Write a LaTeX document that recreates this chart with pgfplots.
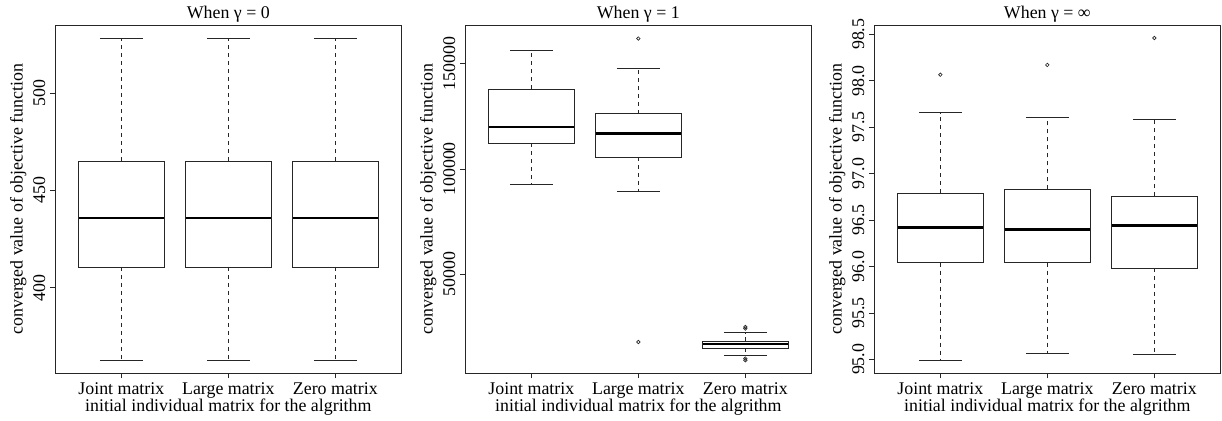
\documentclass[border=0pt]{standalone}
\usepackage{fontspec}
\setmainfont{Liberation Serif}
\usepackage{pgfplots}
\pgfplotsset{compat=1.18}
\usepgfplotslibrary{statistics}

\pgfplotsset{
  rbox/.style={
    scale only axis, width=260pt, height=261pt,
    xmin=0.38, xmax=3.62,
    xtick={1,2,3}, xticklabels={Joint matrix, Large matrix, Zero matrix},
    tick align=outside, xtick pos=left, ytick pos=left,
    major tick length=3.75pt,
    every tick/.style={black!85, line width=0.5pt},
    axis line style={black!85, line width=0.5pt},
    font=\rmfamily\fontsize{13.4}{15}\selectfont,
    tick label style={font=\rmfamily\fontsize{13.4}{15}\selectfont},
    /pgf/number format/assume math mode=true,
    yticklabel style={rotate=90, anchor=south},
    xlabel={initial individual matrix for the algrithm},
    ylabel={converged value of objective function},
    every axis x label/.style={at={([yshift=-25.3pt]axis description cs:0.5,0)}, anchor=center},
    every axis y label/.style={at={([xshift=-27.5pt]axis description cs:0,0.5)}, anchor=center, rotate=90},
    every axis title/.style={at={([yshift=8.5pt]axis description cs:0.5,1)}, anchor=center},
    boxplot/draw direction=y,
    boxplot/box extend=0.8,
    boxplot/whisker extend=0.4,
    boxplot/every median/.style={line width=2pt, black},
    boxplot/draw/lower whisker/.code={%
      \draw[dash pattern=on 3pt off 3pt]
        (boxplot whisker cs:\pgfplotsboxplotvalue{lower quartile},0.5) --
        (boxplot whisker cs:\pgfplotsboxplotvalue{lower whisker},0.5);
      \draw (boxplot whisker cs:\pgfplotsboxplotvalue{lower whisker},0) --
        (boxplot whisker cs:\pgfplotsboxplotvalue{lower whisker},1);
    },
    boxplot/draw/upper whisker/.code={%
      \draw[dash pattern=on 3pt off 3pt]
        (boxplot whisker cs:\pgfplotsboxplotvalue{upper quartile},0.5) --
        (boxplot whisker cs:\pgfplotsboxplotvalue{upper whisker},0.5);
      \draw (boxplot whisker cs:\pgfplotsboxplotvalue{upper whisker},0) --
        (boxplot whisker cs:\pgfplotsboxplotvalue{upper whisker},1);
    },
  },
  bx/.style={black!85, line width=0.55pt, solid},
  outl/.style={only marks, mark=o, mark size=1.3pt, black!85, mark options={line width=0.5pt}},
}

\begin{document}
\begin{tikzpicture}
\useasboundingbox (0,0) rectangle (916.5pt,315.75pt);

% Panel 1: gamma = 0
\begin{axis}[rbox, at={(41.25pt,35.8pt)}, anchor=south west,
  title={When γ = 0},
  ymin=356, ymax=534.8, ytick={400,450,500}, yticklabels={400,450,500}]
\addplot[bx, boxplot prepared={lower whisker=362.6, lower quartile=410.6, median=435.8, upper quartile=465.1, upper whisker=528, draw position=1}] coordinates {};
\addplot[bx, boxplot prepared={lower whisker=362.6, lower quartile=410.6, median=435.8, upper quartile=465.1, upper whisker=528, draw position=2}] coordinates {};
\addplot[bx, boxplot prepared={lower whisker=362.6, lower quartile=410.6, median=435.8, upper quartile=465.1, upper whisker=528, draw position=3}] coordinates {};
\end{axis}

% Panel 2: gamma = 1
\begin{axis}[rbox, at={(348.75pt,35.8pt)}, anchor=south west,
  title={When γ = 1},
  ymin=3034, ymax=168170, ytick={50000,100000,150000},
  yticklabels={50000,100000,150000}, scaled y ticks=false]
\addplot[bx, boxplot prepared={lower whisker=92900, lower quartile=112200, median=119900, upper quartile=137950, upper whisker=156300, draw position=1}] coordinates {};
\addplot[bx, boxplot prepared={lower whisker=89420, lower quartile=105700, median=116800, upper quartile=126280, upper whisker=147900, draw position=2}] coordinates {};
\addplot[bx, boxplot prepared={lower whisker=11430, lower quartile=15040, median=16930, upper quartile=18360, upper whisker=22340, draw position=3}] coordinates {};
\addplot[outl] coordinates {(2,161860) (2,17880) (3,25000) (3,24240) (3,10010) (3,9200)};
\end{axis}

% Panel 3: gamma = infinity
\begin{axis}[rbox, at={(655.5pt,35.8pt)}, anchor=south west,
  title={When γ = ∞},
  ymin=94.85, ymax=98.597, ytick={95,95.5,96,96.5,97,97.5,98,98.5},
  yticklabels={95.0,95.5,96.0,96.5,97.0,97.5,98.0,98.5}]
\addplot[bx, boxplot prepared={lower whisker=94.99, lower quartile=96.04, median=96.42, upper quartile=96.79, upper whisker=97.655, draw position=1}] coordinates {};
\addplot[bx, boxplot prepared={lower whisker=95.06, lower quartile=96.04, median=96.40, upper quartile=96.83, upper whisker=97.60, draw position=2}] coordinates {};
\addplot[bx, boxplot prepared={lower whisker=95.05, lower quartile=95.98, median=96.44, upper quartile=96.76, upper whisker=97.58, draw position=3}] coordinates {};
\addplot[outl] coordinates {(1,98.065) (2,98.17) (3,98.46)};
\end{axis}
\end{tikzpicture}
\end{document}
